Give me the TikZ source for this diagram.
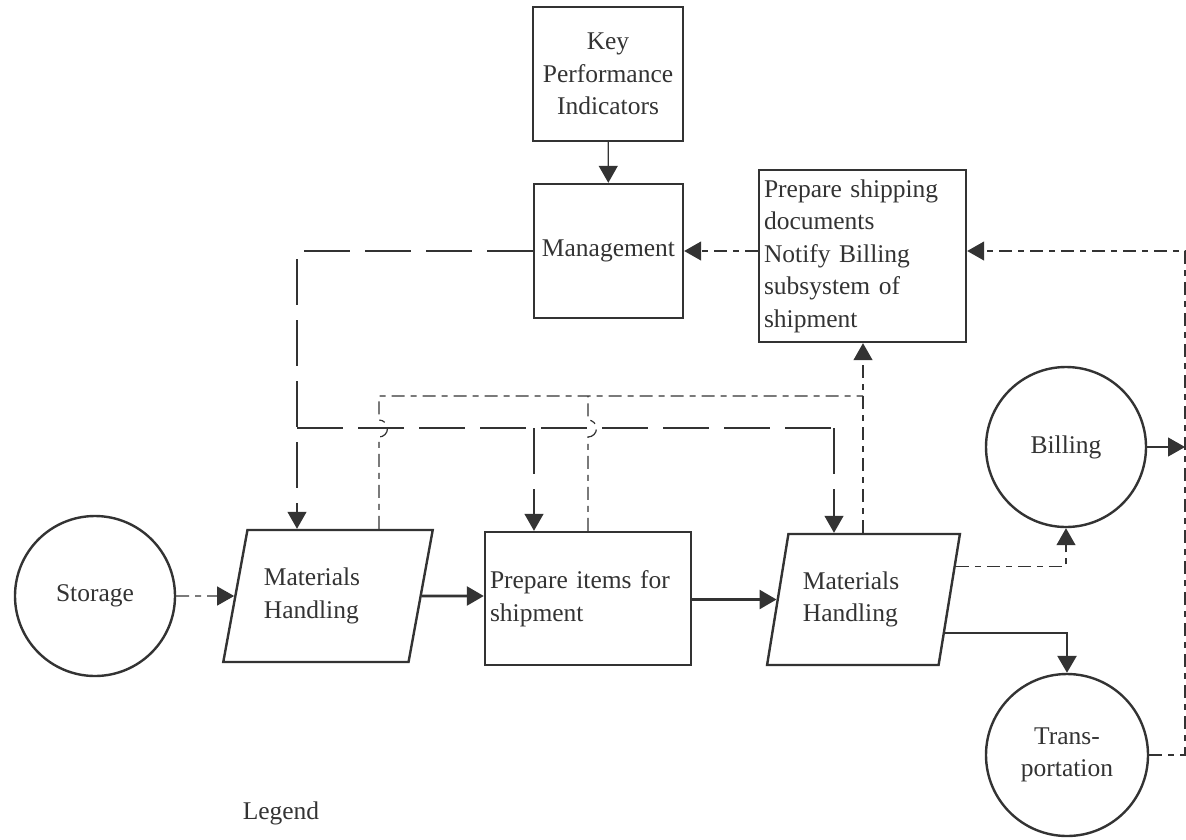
\documentclass[tikz,border=0pt]{standalone}
\usepackage{fontspec}
\setmainfont{Liberation Serif}
\usetikzlibrary{shapes.geometric,arrows.meta,calc}
\definecolor{ink}{HTML}{333333}
\begin{document}
\begin{tikzpicture}[x=1pt,y=-1pt,
  every node/.style={text=ink,font=\fontsize{25.5}{32.5}\selectfont},
  box/.style={draw=ink,line width=2.4pt,rectangle,inner sep=5pt},
  circ/.style={draw=ink,line width=2.4pt,circle,inner sep=0pt},
  para/.style={draw=ink,line width=2.4pt,trapezium,trapezium stretches=true,inner sep=2pt,align=left},
  arr/.style={-{Triangle[length=17pt,width=19pt]}},
  flow/.style={draw=ink,line width=2.6pt,arr},
  link/.style={draw=ink,line width=1.2pt},
  longdash/.style={link,dash pattern=on 46pt off 15pt},
  dashdot/.style={link,dash pattern=on 13pt off 6pt on 6pt off 6pt},
]
\useasboundingbox (0,0) rectangle (1186,839);

% boxes
\node[box,minimum width=150pt,minimum height=134pt,align=center] (kpi) at (608,74) {Key\\Performance\\Indicators};
\node[box,minimum width=149pt,minimum height=134pt] (mgmt) at (608.5,251) {Management};
\node[box,minimum width=207pt,minimum height=172pt,text width=197pt,align=left] (ps) at (862.5,256)
  {Prepare shipping\\documents\\Notify Billing\\subsystem of\\shipment};
\node[box,minimum width=206pt,minimum height=133pt,text width=196pt,align=left] (pi) at (588,598.5)
  {Prepare items for\\shipment};

% circles
\node[circ,minimum size=160pt] (storage) at (95,596) {Storage};
\node[circ,minimum size=160pt] (billing) at (1066,447) {Billing};
\node[circ,minimum size=162pt,align=center] (transport) at (1067,755) {Trans-\\portation};

% materials handling (parallelograms); trailing space keeps the text toward the left side
\node[para,trapezium left angle=71.6,trapezium right angle=108.4,minimum width=210pt,minimum height=132pt] (mh1) at (328,596)
  {Materials\hspace*{32pt}\\Handling};
\node[para,trapezium left angle=73.4,trapezium right angle=106.6,minimum width=193pt,minimum height=131pt] (mh2) at (863.5,599.5)
  {Materials\hspace*{25pt}\\Handling};

\node (legend) at (281,813) {Legend};

% bus junctions
\coordinate (lx) at (297,428);
\coordinate (mx) at (534,428);
\coordinate (rx) at (834,428);
\coordinate (s1) at (379,396);
\coordinate (s2) at (588,396);
\coordinate (s3) at (863,396);
\coordinate (rr) at (1185,0);
\coordinate (b0) at ($(mh2.top right corner)!0.25!(mh2.bottom right corner)$);
\coordinate (t0) at ($(mh2.top right corner)!0.75!(mh2.bottom right corner)$);

% solid connectors
\draw[link,arr] (kpi) -- (mgmt);
\draw[flow] (mh1) -- (mh1 -| pi.west);
\draw[flow] (pi.east |- mh2) -- (mh2);
\draw[flow] (t0) -| (transport.north);
\draw[link,arr] (billing.east) -- (rr |- billing);

% management directives (long dashes)
\draw[longdash,arr] (mgmt.west) -| (lx |- mh1.north);
\draw[longdash] (lx) -- (rx);
\draw[longdash,arr] (mx) -- (mx |- pi.north);
\draw[longdash,arr] (rx) -- (rx |- mh2.north);

% status reports (dash-dot), with hops over the directive line
\draw[dashdot] (s1 |- mh1.north) -- (379,437) arc[start angle=90,end angle=-90,radius=8.5] -- (s1) -- (s3);
\draw[dashdot] (s2 |- pi.north) -- (588,437) arc[start angle=90,end angle=-90,radius=8.5] -- (s2);
\draw[dashdot,arr] (s3 |- mh2.north) -- (s3 |- ps.south);
\draw[dashdot,arr] (ps.west |- mgmt) -- (mgmt.east);
\draw[dashdot,arr] (storage) -- (mh1);
\draw[dashdot,arr] (b0) -| (billing.south);
\draw[dashdot,arr] (transport.east) -| (rr |- mgmt) -- (ps.east |- mgmt);
\end{tikzpicture}
\end{document}
